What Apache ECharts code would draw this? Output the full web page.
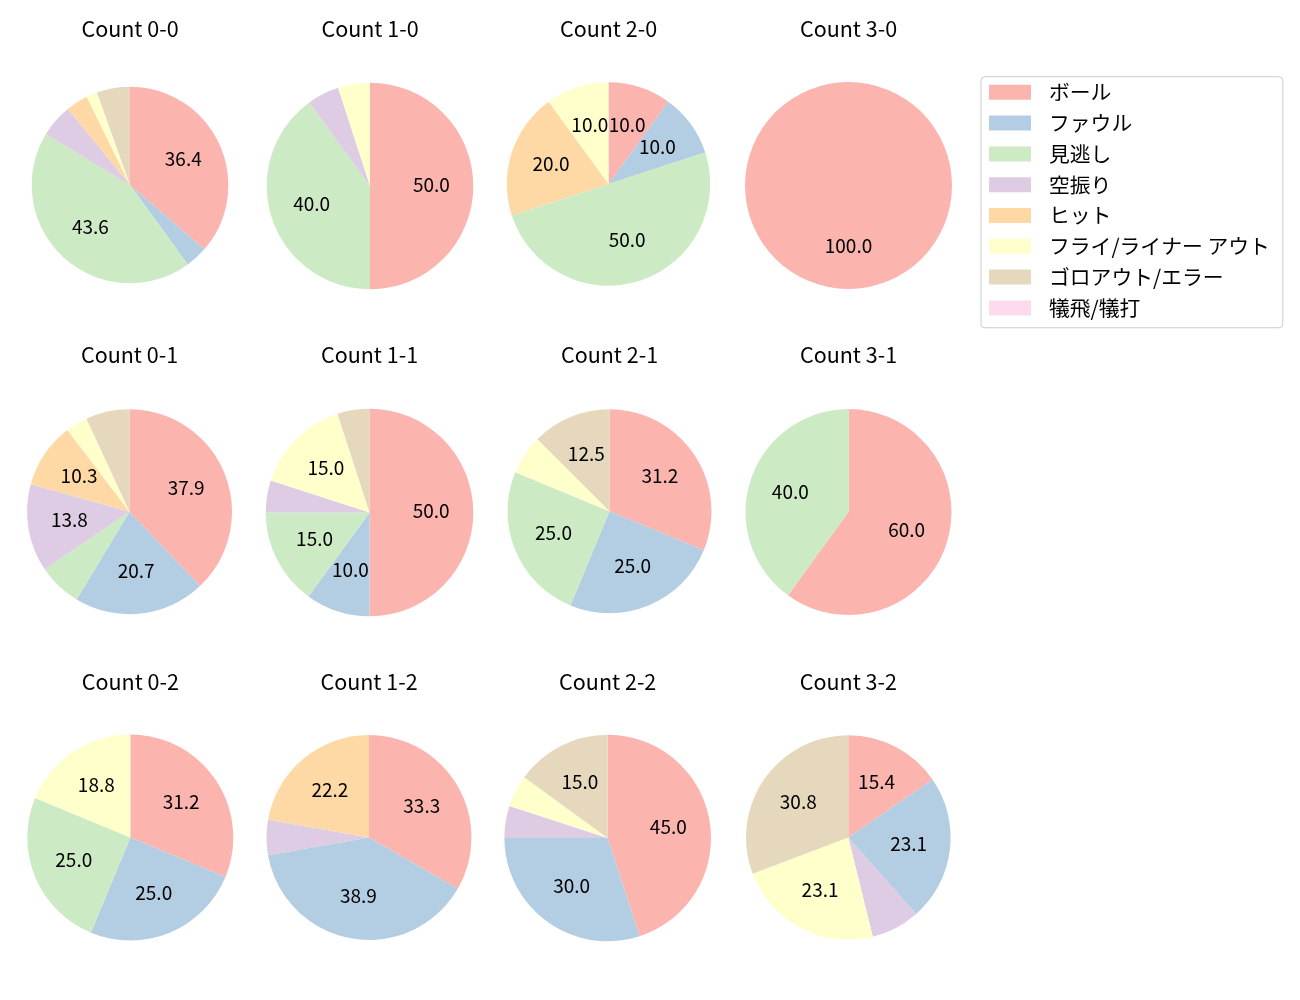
<!DOCTYPE html>
<html>
<head>
<meta charset="utf-8">
<script src="https://cdn.jsdelivr.net/npm/echarts@6/dist/echarts.min.js"></script>
<style>
html,body{margin:0;padding:0;background:#fff;}
#chart{width:1300px;height:1000px;}
</style>
</head>
<body>
<div id="chart"></div>
<script>
// Pie titles (balls-strikes counts), in grid order
const countNames = ['Count 0-0','Count 1-0','Count 2-0','Count 3-0',
                    'Count 0-1','Count 1-1','Count 2-1','Count 3-1',
                    'Count 0-2','Count 1-2','Count 2-2','Count 3-2'];
// Outcome categories
const categories = ['ボール','ファウル','見逃し','空振り','ヒット','フライ/ライナー アウト','ゴロアウト/エラー','犠飛/犠打'];
// Pitch counts per category, one value per pie (same order as countNames)
const ball      = [20,10,1,1, 11,10,5,3, 5,6,9,2];
const foul      = [ 2, 0,1,0,  6, 2,4,0, 4,7,6,3];
const minogashi = [24, 8,5,0,  2, 3,4,2, 4,0,0,0];
const karaburi  = [ 3, 1,0,0,  4, 1,0,0, 0,1,1,1];
const hit       = [ 2, 0,2,0,  3, 0,0,0, 0,4,0,0];
const flyOut    = [ 1, 1,1,0,  1, 3,1,0, 3,0,1,3];
const groundOut = [ 3, 0,0,0,  2, 1,2,0, 0,0,3,4];
const sacrifice = [ 0, 0,0,0,  0, 0,0,0, 0,0,0,0];

const palette = ['#fbb4ae','#b3cde3','#ccebc5','#decbe4','#fed9a6','#ffffcc','#e5d8bd','#fddaec'];
const FONT = '"Noto Sans CJK JP", "Noto Sans", sans-serif';

// layout of each pie (centers / radii in px)
const cxs = [130,370,608.5,848.5, 129.5,369.5,609.5,848.5, 130.3,369,607.7,848.3];
const cys = [185,186,184,185.5, 511.7,512.5,511.3,512, 837.5,837.5,838,837.5];
const rs  = [98.3,103.3,101.7,103.5, 102.5,103.8,102,103, 103,102.5,103.3,102.3];
const titleYs = [28.5, 355, 681.5];

const valueArrays = [ball, foul, minogashi, karaburi, hit, flyOut, groundOut, sacrifice];

function fmtPct(p) { // python-like %1.1f (round half to even)
  const v = p * 10;
  const f = Math.floor(v);
  const d = v - f;
  let n;
  if (Math.abs(d - 0.5) < 1e-9) n = (f % 2 === 0) ? f : f + 1;
  else n = Math.round(v);
  return (n / 10).toFixed(1);
}

const series = [];
const titles = [];
countNames.forEach((name, i) => {
  const vals = valueArrays.map(a => a[i]);
  const total = vals.reduce((s, v) => s + v, 0);
  const data = categories.map((c, k) => ({
    name: c, value: vals[k], itemStyle: { color: palette[k] }
  }));
  series.push({
    type: 'pie', silent: true, startAngle: 90, clockwise: true,
    center: [cxs[i], cys[i]], radius: [0, rs[i]],
    avoidLabelOverlap: false, label: { show: false }, labelLine: { show: false },
    itemStyle: { borderWidth: 0 },
    emphasis: { disabled: true },
    data: data
  });
  const labelData = categories.map((c, k) => {
    const pct = total ? vals[k] / total * 100 : 0;
    return {
      name: c, value: vals[k],
      itemStyle: { color: 'rgba(0,0,0,0)' },
      label: { show: pct >= 9.95, formatter: fmtPct(pct) }
    };
  });
  series.push({
    type: 'pie', silent: true, startAngle: 90, clockwise: true,
    center: [cxs[i], cys[i]], radius: [rs[i] * 0.13, rs[i]],
    avoidLabelOverlap: false,
    label: { position: 'inside', color: '#000', fontSize: 19, fontFamily: FONT, offset: [0, -1.5] },
    labelLine: { show: false },
    itemStyle: { borderWidth: 0 },
    emphasis: { disabled: true },
    data: labelData
  });
  const row = Math.floor(i / 4);
  titles.push({
    text: name, left: cxs[i], top: titleYs[row] - 12, textAlign: 'center',
    padding: 0,
    textStyle: { fontSize: 21.5, fontWeight: 'normal', color: '#000', fontFamily: FONT, lineHeight: 24 }
  });
});

const option = {
  backgroundColor: '#fff',
  animation: false,
  color: palette,
  title: titles,
  legend: {
    orient: 'vertical', left: 981, top: 76.7,
    data: categories,
    icon: 'rect', itemWidth: 42, itemHeight: 15, itemGap: 10.0,
    padding: [5.2, 13, 9.5, 8],
    borderColor: '#cccccc', borderWidth: 1, borderRadius: 4,
    backgroundColor: '#fff',
    selectedMode: false,
    textStyle: { fontSize: 20.8, fontFamily: FONT, color: '#000', lineHeight: 20, padding: [0, 0, 0, 13] }
  },
  series: series
};

const chart = echarts.init(document.getElementById('chart'), null, { renderer: 'canvas' });
chart.setOption(option);
</script>
</body>
</html>
